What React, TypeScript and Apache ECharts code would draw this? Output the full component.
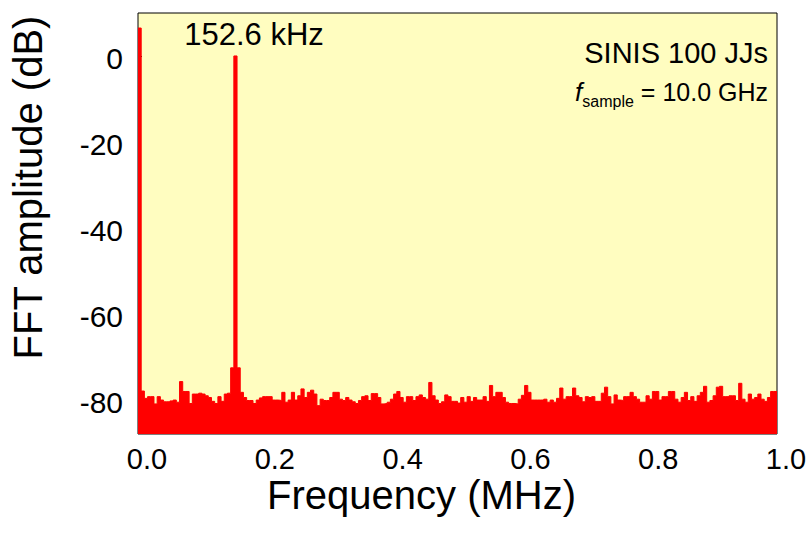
import React, { useEffect, useRef } from "react";
import * as echarts from "echarts";

// FFT bins: left edge of first bin and bin width (MHz)
const binStartMHz = 0;
const binWidthMHz = 0.005;

// FFT amplitude (dB) of each bin
const amplitudeDb = [
  6.5, -78.0, -79.7, -79.3, -79.3, -81.0, -79.3, -80.1, -80.5, -80.5,
  -80.3, -80.1, -80.6, -75.8, -78.1, -78.1, -80.9, -78.7, -78.7, -78.5,
  -78.7, -79.1, -79.5, -80.4, -80.9, -79.3, -80.4, -78.7, -78.5, -72.6,
  0.0, -72.6, -78.3, -79.5, -80.2, -80.2, -80.9, -80.1, -79.6, -79.3,
  -79.3, -79.3, -80.1, -80.1, -80.2, -78.3, -80.6, -80.1, -78.3, -80.1,
  -79.1, -77.5, -79.5, -78.3, -77.8, -78.7, -81.4, -79.9, -80.2, -80.2,
  -79.5, -78.3, -78.3, -79.9, -80.2, -79.5, -80.1, -80.5, -80.9, -80.2,
  -79.3, -79.1, -80.2, -78.6, -78.6, -79.5, -81.0, -80.9, -80.6, -79.9,
  -78.7, -78.1, -79.5, -80.6, -79.3, -79.3, -80.2, -79.3, -78.9, -79.5,
  -79.9, -76.0, -79.1, -80.1, -80.9, -80.5, -78.9, -79.3, -80.4, -80.4,
  -80.8, -79.5, -80.6, -79.3, -80.4, -79.5, -80.1, -80.1, -79.3, -80.4,
  -76.7, -79.3, -78.3, -78.3, -79.5, -80.6, -80.9, -80.9, -81.0, -79.9,
  -79.0, -76.7, -78.3, -80.1, -80.1, -80.1, -80.1, -79.9, -80.6, -80.1,
  -80.6, -79.7, -77.3, -79.9, -79.3, -79.3, -77.3, -79.1, -79.5, -80.5,
  -79.3, -79.5, -79.3, -80.4, -80.4, -78.5, -77.1, -79.3, -81.0, -78.9,
  -80.1, -80.2, -79.3, -79.3, -78.3, -79.3, -79.9, -80.6, -80.6, -79.1,
  -79.9, -78.1, -78.1, -80.1, -79.3, -79.3, -78.1, -78.1, -79.9, -80.6,
  -79.5, -78.3, -80.2, -79.3, -80.4, -79.1, -78.3, -76.9, -80.6, -80.2,
  -79.1, -77.1, -76.9, -79.3, -79.3, -79.1, -79.1, -80.2, -76.2, -79.9,
  -80.6, -78.7, -79.9, -79.5, -78.7, -79.9, -80.4, -79.5, -78.1, -78.1,
];

const xTickLabels = ["0.0", "0.2", "0.4", "0.6", "0.8", "1.0"];
const yTickValues = [0, -20, -40, -60, -80];
const peakLabel = "152.6 kHz";
const infoLine1 = "SINIS 100 JJs";

const FONT = "'Liberation Sans', Arial, Helvetica, sans-serif";

export default function App() {
  const ref = useRef<HTMLDivElement>(null);

  useEffect(() => {
    if (!ref.current) return;
    const chart = echarts.init(ref.current, null, { renderer: "svg" });

    const data: [number, number][] = amplitudeDb.map((v, i) => [
      binStartMHz + i * binWidthMHz,
      v,
    ]);
    data.push([binStartMHz + amplitudeDb.length * binWidthMHz, amplitudeDb[amplitudeDb.length - 1]]);

    const option: any = {
      animation: false,
      backgroundColor: "#ffffff",
      textStyle: { fontFamily: FONT },
      grid: [
        {
          left: 138,
          right: 33,
          top: 13,
          bottom: 103,
          show: true,
          backgroundColor: "#FFFDC0",
          borderColor: "#000",
          borderWidth: 1,
        },
        { left: 147, right: 24, top: 16, bottom: 100, show: false },
      ],
      xAxis: [
        {
          type: "value",
          gridIndex: 0,
          min: 0,
          max: 1,
          axisLine: { show: false },
          axisTick: { show: false },
          axisLabel: { show: false },
          splitLine: { show: false },
          name: "Frequency (MHz)",
          nameLocation: "middle",
          nameGap: 41,
          nameTextStyle: {
            fontSize: 40,
            lineHeight: 40,
            color: "#000",
            fontFamily: FONT,
            padding: [0, 72, 0, 0],
          },
        },
        {
          type: "value",
          gridIndex: 1,
          min: 0,
          max: 1,
          interval: 0.2,
          axisLine: { show: false },
          axisTick: { show: false },
          splitLine: { show: false },
          axisLabel: {
            fontSize: 29,
            lineHeight: 29,
            color: "#000",
            fontFamily: FONT,
            margin: 7,
            formatter: (v: number) => xTickLabels[Math.round(v / 0.2)] ?? "",
          },
        },
      ],
      yAxis: [
        {
          type: "value",
          gridIndex: 0,
          min: -88,
          max: 10,
          axisLine: { show: false },
          axisLabel: { show: false },
          splitLine: { show: false },
          axisTick: {
            show: true,
            inside: true,
            length: 4,
            customValues: [0],
            lineStyle: { color: "#000", width: 1 },
          },
          name: "FFT amplitude (dB)",
          nameLocation: "middle",
          nameGap: 90,
          nameTextStyle: {
            fontSize: 40,
            lineHeight: 40,
            color: "#000",
            fontFamily: FONT,
            padding: [0, 0, 0, 72],
          },
        },
        {
          type: "value",
          gridIndex: 1,
          min: -88,
          max: 10,
          axisLine: { show: false },
          axisTick: { show: false },
          splitLine: { show: false },
          axisLabel: {
            customValues: yTickValues,
            fontSize: 30,
            color: "#000",
            fontFamily: FONT,
            margin: 24,
          },
        },
      ],
      series: [
        {
          type: "line",
          xAxisIndex: 0,
          yAxisIndex: 0,
          step: "end",
          symbol: "none",
          data,
          clip: true,
          lineStyle: { color: "#FF0000", width: 1 },
          areaStyle: { color: "#FF0000", opacity: 1, origin: "start" },
        },
      ],
      graphic: [
        {
          type: "text",
          x: 254,
          y: 34,
          z: 100,
          style: {
            text: peakLabel,
            fontSize: 31,
            fontFamily: FONT,
            fill: "#000",
            align: "center",
            verticalAlign: "middle",
            textAlign: "center",
            textVerticalAlign: "middle",
          },
        },
        {
          type: "text",
          x: 768,
          y: 53,
          z: 100,
          style: {
            text: infoLine1,
            fontSize: 29,
            fontFamily: FONT,
            fill: "#000",
            align: "right",
            verticalAlign: "middle",
            textAlign: "right",
            textVerticalAlign: "middle",
          },
        },
        {
          type: "text",
          x: 768,
          y: 92,
          z: 100,
          style: {
            text: "{it|f}{sub|sample}{n| = 10.0 GHz}",
            fontFamily: FONT,
            fill: "#000",
            align: "right",
            verticalAlign: "middle",
            textAlign: "right",
            textVerticalAlign: "middle",
            rich: {
              it: { fontSize: 26, fontStyle: "italic", fontFamily: FONT, fill: "#000", lineHeight: 34, verticalAlign: "middle" },
              sub: { fontSize: 16, fontFamily: FONT, fill: "#000", lineHeight: 16, verticalAlign: "bottom" },
              n: { fontSize: 25, fontFamily: FONT, fill: "#000", lineHeight: 34, verticalAlign: "middle" },
            },
          },
        },
      ],
    };

    chart.setOption(option);
    return () => chart.dispose();
  }, []);

  return (
    <div
      ref={ref}
      style={{ position: "fixed", left: 0, top: 0, width: 810, height: 537, background: "#fff" }}
    />
  );
}
